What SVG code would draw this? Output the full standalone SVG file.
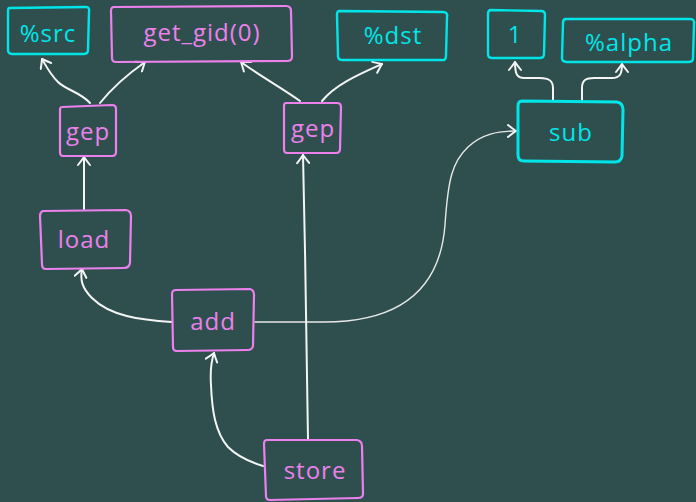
<svg xmlns="http://www.w3.org/2000/svg" width="696" height="502" viewBox="0 0 696 502">
  <defs>
    <marker id="arrow" markerWidth="14" markerHeight="14" refX="0" refY="0" viewBox="-10 -7 12 14" orient="auto" markerUnits="userSpaceOnUse">
      <path d="M-8,-6 Q-3,-2 0,0 Q-3,2 -8,6" fill="none" stroke="#f4f4f4" stroke-width="2" stroke-linecap="round" stroke-linejoin="round"/>
    </marker>
    <style>
      .bg { fill: #2f4f4f; }
      .pk { fill: none; stroke: #ec80ec; stroke-width: 2.2; }
      .cy { fill: none; stroke: #00e6e8; stroke-width: 2.4; }
      .cy-thick { fill: none; stroke: #00e6e8; stroke-width: 3; }
      .tpk, .tcy { font-family: "Open Sans", "Noto Sans", sans-serif; font-size: 24px; letter-spacing: 1px; text-anchor: middle; dominant-baseline: central; }
      .tpk { fill: #ec80ec; }
      .tcy { fill: #00e6e8; }
      .edge { fill: none; stroke: #f4f4f4; stroke-width: 2; stroke-linecap: round; marker-end: url(#arrow); }
      .edge-thin { fill: none; stroke: #e8e8e8; stroke-width: 1.4; stroke-linecap: round; marker-end: url(#arrow); }
    </style>
  </defs>

  <rect class="bg" x="0" y="0" width="696" height="502"/>

  <!-- connectors -->
  <g id="edges">
    <!-- gep (left) to operands -->
    <path class="edge" d="M90,103 C80,92 66,90 58,82 C50,74 46,66 42,59"/>
    <path class="edge" d="M100,103 C112,88 128,74 145,62"/>
    <!-- gep (right) to operands -->
    <path class="edge" d="M300,101 C282,88 260,76 241,62"/>
    <path class="edge" d="M322,101 C336,84 360,74 382,64"/>
    <!-- load to gep -->
    <path class="edge" d="M84,209 L84,157"/>
    <!-- add to load -->
    <path class="edge" d="M172,322 C140,320 110,316 92,298 C82,288 80,280 82,269"/>
    <!-- add to sub -->
    <path class="edge-thin" d="M255,322 L324,322 C400,322 440,290 445,225 C448,180 452,162 468,147 C482,134 498,131 516,131"/>
    <!-- store to gep (right) -->
    <path class="edge" d="M308,439 C307,340 305,250 303,155"/>
    <!-- store to add -->
    <path class="edge" d="M263,466 C250,462 236,455 228,447 C215,432 212,410 211,385 C210,370 211,362 214,353"/>
    <!-- sub to 1 and %alpha -->
    <path class="edge" d="M553,100 L553,88 C553,80 548,78 540,78 L524,78 C517,78 515,74 515,62"/>
    <path class="edge" d="M582,100 L582,88 C582,80 586,78 594,78 L612,78 C620,78 622,74 622,64"/>
  </g>

  <!-- nodes -->
  <g id="node-src">
    <path class="cy" d="M9,8 L86,7 Q90,7 89,12 L88,50 Q88,54 84,54 L12,54 Q8,54 8,50 L8,12 Q8,8 9,8 Z"/>
    <text class="tcy" x="48" y="32">%src</text>
  </g>
  <g id="node-get-gid">
    <path class="pk" d="M114,7 L286,6 Q291,6 291,11 L292,57 Q292,61 287,61 L116,62 Q112,62 112,58 L111,11 Q111,7 114,7 Z"/>
    <text class="tpk" x="202" y="31">get_gid(0)</text>
  </g>
  <g id="node-dst">
    <path class="cy" d="M339,11 L443,12 Q448,12 447,17 L446,56 Q446,61 441,60 L342,60 Q338,60 338,56 L337,15 Q337,11 339,11 Z"/>
    <text class="tcy" x="393" y="34">%dst</text>
  </g>
  <g id="node-one">
    <path class="cy" d="M491,10 L541,11 Q545,11 545,15 L544,54 Q544,58 540,58 L492,58 Q488,58 488,54 L488,14 Q488,10 491,10 Z"/>
    <text class="tcy" x="515" y="33">1</text>
  </g>
  <g id="node-alpha">
    <path class="cy" d="M566,19 L690,19 Q695,19 694,24 L693,58 Q693,62 689,62 L567,62 Q562,62 562,58 L563,23 Q563,19 566,19 Z"/>
    <text class="tcy" x="629" y="41">%alpha</text>
  </g>
  <g id="node-gep-1">
    <path class="pk" d="M62,107 L112,105 Q116,105 116,109 L116,152 Q116,156 112,156 L63,156 Q60,156 60,152 L60,110 Q60,107 62,107 Z"/>
    <text class="tpk" x="88" y="130">gep</text>
  </g>
  <g id="node-gep-2">
    <path class="pk" d="M286,103 L337,103 Q341,103 341,107 L340,149 Q340,153 336,153 L287,153 Q284,153 284,149 L284,106 Q284,103 286,103 Z"/>
    <text class="tpk" x="313" y="127">gep</text>
  </g>
  <g id="node-sub">
    <path class="cy-thick" d="M522,101 L617,102 Q623,103 623,110 L622,156 Q621,162 615,162 L524,161 Q518,161 518,155 L518,106 Q518,101 522,101 Z"/>
    <text class="tcy" x="571" y="131">sub</text>
  </g>
  <g id="node-load">
    <path class="pk" d="M43,211 L126,210 Q131,211 131,216 L130,263 Q129,268 124,268 L46,269 Q42,269 42,264 L40,216 Q40,212 43,211 Z"/>
    <text class="tpk" x="84" y="238">load</text>
  </g>
  <g id="node-add">
    <path class="pk" d="M176,290 L250,289 Q254,290 254,295 L253,346 Q252,350 248,350 L177,351 Q173,351 173,347 L172,294 Q172,290 176,290 Z"/>
    <text class="tpk" x="213" y="320">add</text>
  </g>
  <g id="node-store">
    <path class="pk" d="M267,440 L357,440 Q362,441 362,446 L363,494 Q363,498 358,498 L270,500 Q266,500 266,496 L264,444 Q264,440 267,440 Z"/>
    <text class="tpk" x="315" y="469">store</text>
  </g>
</svg>
